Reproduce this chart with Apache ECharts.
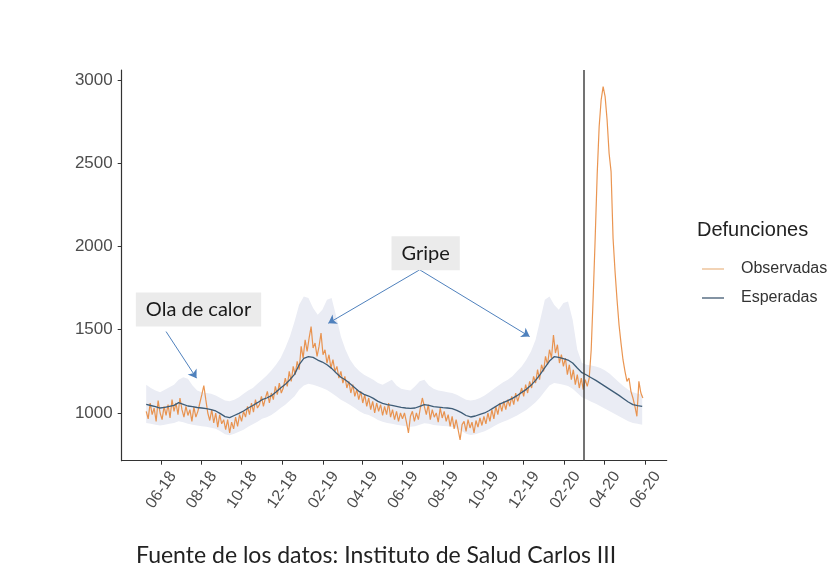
<!DOCTYPE html>
<html><head><meta charset="utf-8">
<script src="https://cdn.jsdelivr.net/npm/echarts@6/dist/echarts.min.js"></script>
<style>html,body{margin:0;padding:0;background:#fff}#c{width:838px;height:582px}</style>
</head><body><div id="c"></div>
<script>
// ---- data ----
// observed daily deaths, sampled every 3 days from 2018-05-10
const observed = [
1010,965,1060,990,1030,950,1075,1000,960,1040,
985,1050,970,1080,1010,1060,990,1090,1020,975,
1040,985,1020,950,1035,975,1010,1060,1110,1165,
1080,1000,955,1020,940,1000,915,990,935,960,
900,960,880,945,905,975,920,990,950,1010,
975,1040,990,1060,1005,1080,1030,1050,1100,1040,
1090,1130,1060,1120,1080,1160,1110,1180,1120,1150,
1210,1160,1250,1190,1280,1230,1310,1260,1400,1330,
1440,1370,1450,1519,1390,1420,1340,1400,1480,1350,
1380,1300,1350,1270,1320,1250,1280,1210,1250,1180,
1220,1150,1190,1120,1170,1100,1140,1080,1130,1060,
1110,1040,1090,1020,1070,1000,1060,1010,1050,985,
1040,990,1060,975,1020,960,1010,950,1000,965,
1000,945,880,980,1010,950,1000,960,1030,1090,
1040,990,1050,960,1020,975,1000,945,1030,970,
1010,950,990,920,980,905,960,900,838,930,
950,890,960,910,945,880,955,915,970,925,
980,935,1000,950,1020,965,1040,990,1060,1010,
1070,1020,1080,1040,1100,1050,1120,1070,1110,1150,
1100,1170,1120,1190,1150,1220,1180,1260,1200,1290,
1250,1340,1290,1380,1330,1468,1360,1410,1300,1350,
1280,1330,1230,1290,1200,1260,1170,1230,1150,1210,
1140,1200,1160,1210,1380,1700,2050,2430,2720,2880,
2960,2900,2760,2560,2450,2050,1850,1680,1530,1420,
1320,1250,1190,1210,1130,1090,1040,980,1190,1120,1090
];
// expected deaths and its band, weekly from 2018-05-10
const expected = [
1052,1045,1038,1030,1034,1040,1046,1062,1052,1042,
1038,1033,1030,1026,1020,1012,996,978,972,985,
998,1012,1030,1045,1062,1080,1090,1104,1126,1150,
1172,1200,1232,1290,1328,1338,1334,1318,1306,1290,
1268,1240,1215,1198,1176,1152,1128,1112,1102,1088,
1070,1058,1050,1046,1040,1034,1030,1028,1030,1040,
1050,1046,1038,1035,1032,1030,1026,1016,1002,985,
976,982,992,1000,1015,1032,1050,1062,1074,1088,
1104,1124,1142,1166,1196,1232,1272,1312,1338,1334,
1326,1318,1300,1270,1242,1228,1212,1196,1178,1160,
1142,1124,1106,1086,1066,1050,1044,1040
];
const upper = [
1170,1150,1135,1125,1140,1155,1170,1200,1215,1205,
1165,1135,1125,1120,1115,1105,1090,1075,1070,1080,
1095,1115,1135,1150,1175,1200,1225,1255,1290,1330,
1390,1460,1550,1650,1700,1690,1630,1590,1620,1680,
1690,1580,1460,1380,1320,1280,1250,1230,1215,1200,
1180,1170,1185,1200,1165,1145,1140,1135,1160,1190,
1200,1165,1145,1135,1130,1125,1120,1110,1095,1080,
1075,1080,1090,1105,1125,1145,1165,1185,1200,1220,
1250,1280,1320,1370,1440,1560,1680,1700,1650,1620,
1660,1670,1560,1380,1300,1290,1285,1280,1270,1255,
1235,1210,1185,1160,1140,1125,1115,1110
];
const lower = [
940,935,930,925,930,935,940,950,945,935,
930,925,920,918,912,905,890,872,866,876,
888,900,918,932,948,965,975,988,1008,1030,
1050,1075,1100,1140,1165,1175,1170,1160,1150,1138,
1120,1100,1080,1065,1048,1030,1010,996,988,975,
958,948,940,936,930,925,920,918,920,930,
938,935,928,925,922,920,916,906,893,876,
868,873,882,890,904,920,936,948,958,972,
985,1002,1018,1040,1065,1095,1130,1165,1180,1176,
1170,1162,1145,1120,1095,1082,1068,1055,1040,1025,
1010,995,980,965,950,940,935,930
];
const xTickLabels = ['06-18','08-18','10-18','12-18','02-19','04-19','06-19','08-19','10-19','12-19','02-20','04-20','06-20'];
const yTickValues = [1000,1500,2000,2500,3000];
const seriesStart = [2018, 5, 10];
const observedStepDays = 3;
const weeklyStepDays = 7;
const cutoffDate = '2020-03-01';
const annotationTexts = ['Ola de calor', 'Gripe'];
const annotationAt = [['2018-07-28', 1622], ['2019-07-06', 1960]];
const arrowFrom = [['2018-06-09', 1489], ['2019-06-27', 1860], ['2019-06-27', 1860]];
const arrowTo = [['2018-07-25', 1209], ['2019-02-09', 1539], ['2019-12-10', 1459]];

// ---- helpers ----
function ts(s){const p=s.split('-').map(Number);return new Date(p[0],p[1]-1,p[2]).getTime();}
function stepTs(step,i){return new Date(seriesStart[0],seriesStart[1]-1,seriesStart[2]+step*i).getTime();}
const xTickValues = xTickLabels.map(l=>{const p=l.split('-').map(Number);return new Date(2000+p[1],p[0]-1,1).getTime();});
const fmtX = v=>{const d=new Date(v);return String(d.getMonth()+1).padStart(2,'0')+'-'+String(d.getFullYear()%100).padStart(2,'0');};

const obsData = observed.map((v,i)=>[stepTs(observedStepDays,i),v]);
const expData = expected.map((v,i)=>[stepTs(weeklyStepDays,i),v]);
const bandRows = lower.map((v,i)=>[stepTs(weeklyStepDays,i),v,upper[i]]);

const chart = echarts.init(document.getElementById('c'));
chart.setOption({
  animation:false,
  backgroundColor:'#fff',
  title:[
    {text:'Defunciones',left:697,top:220,padding:0,textStyle:{fontSize:20,fontWeight:'normal',color:'#222',fontFamily:'Liberation Sans'}},
    {text:'Fuente de los datos: Instituto de Salud Carlos III',left:136,top:544,padding:0,textStyle:{fontSize:23,fontWeight:'normal',color:'#222',fontFamily:'Lato'}}
  ],
  legend:{
    data:[{name:'Observadas',itemStyle:{color:'#EEC49C'}},{name:'Esperadas',itemStyle:{color:'#5A6F85'}}],
    orient:'vertical',left:697,top:256,icon:'rect',itemWidth:22,itemHeight:1.5,itemGap:13,selectedMode:false,
    textStyle:{fontSize:16,color:'#333',fontFamily:'Liberation Sans',padding:[0,0,0,12]}
  },
  grid:{left:121.7,right:171.3,top:70,bottom:121.3},
  xAxis:{
    type:'value',min:ts('2018-04-03'),max:ts('2020-07-04'),
    axisLine:{lineStyle:{color:'#333',width:1.2}},
    axisTick:{customValues:xTickValues,length:4,lineStyle:{color:'#333'}},
    axisLabel:{customValues:xTickValues,formatter:fmtX,rotate:55,color:'#4D4D4D',fontSize:16,fontFamily:'Liberation Sans',margin:4,verticalAlign:'top',lineHeight:30},
    splitLine:{show:false}
  },
  yAxis:{
    type:'value',min:713.5,max:3060,
    axisLine:{show:true,lineStyle:{color:'#333',width:1.2}},
    axisTick:{show:true,customValues:yTickValues,length:4,lineStyle:{color:'#333'}},
    axisLabel:{customValues:yTickValues,formatter:v=>String(v),color:'#4D4D4D',fontSize:17,fontFamily:'Liberation Sans',margin:9},
    splitLine:{show:false}
  },
  series:[
    {name:'banda',type:'custom',data:bandRows,encode:{x:0,y:[1,2]},silent:true,z:1,clip:true,
      renderItem:(params,api)=>{
        if(params.dataIndex!==0) return null;
        const top=[],bot=[];
        bandRows.forEach(r=>{top.push(api.coord([r[0],r[2]]));bot.push(api.coord([r[0],r[1]]));});
        return {type:'polygon',shape:{points:top.concat(bot.reverse())},style:{fill:'#EAECF4'}};
      }},
    {name:'Observadas',type:'line',data:obsData,symbol:'none',lineStyle:{color:'#E8893E',width:1.2,opacity:0.9},itemStyle:{color:'#E8893E'},z:3,silent:true,
      markLine:{silent:true,symbol:['none','none'],label:{show:false},lineStyle:{color:'#444',width:1.5,type:'solid'},data:[{xAxis:ts(cutoffDate)}]}},
    {name:'Esperadas',type:'line',data:expData,symbol:'none',lineStyle:{color:'#3E5C76',width:1.3},itemStyle:{color:'#3E5C76'},z:4,silent:true,
      markLine:{silent:true,symbol:['none','arrow'],symbolSize:8,label:{show:false},lineStyle:{color:'#4F81BD',width:1,type:'solid'},
        data:arrowFrom.map((a,i)=>[{coord:[ts(a[0]),a[1]]},{coord:[ts(arrowTo[i][0]),arrowTo[i][1]]}])},
      markPoint:{silent:true,symbol:'rect',symbolSize:0,
        label:{show:true,position:'inside',formatter:'{b}',backgroundColor:'#EBEBEB',padding:[7,10],color:'#1a1a1a',fontSize:20,fontFamily:'Lato'},
        data:annotationTexts.map((t,i)=>({name:t,coord:[ts(annotationAt[i][0]),annotationAt[i][1]]}))}}
  ]
});
</script></body></html>
